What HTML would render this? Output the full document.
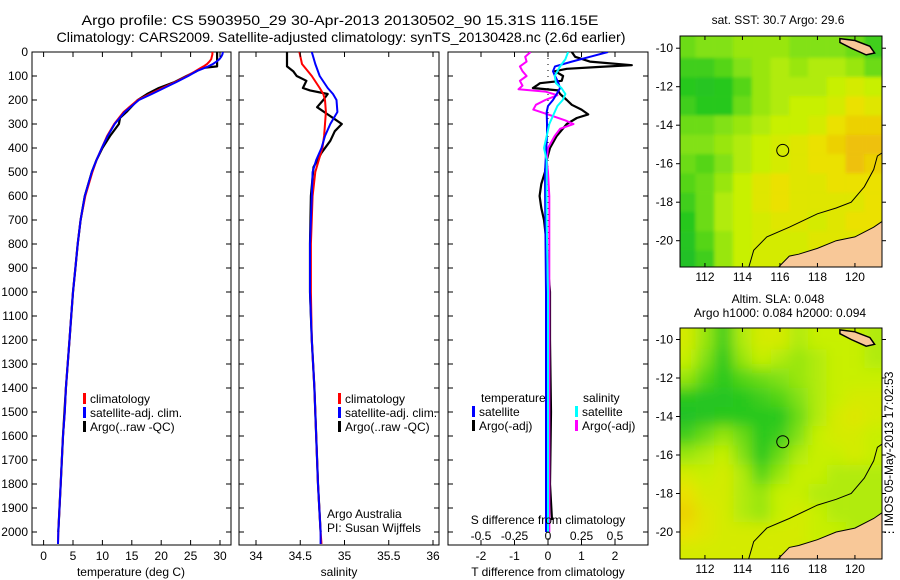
<!DOCTYPE html>
<html><head><meta charset="utf-8"><style>
html,body{margin:0;padding:0;background:#fff;}
svg{display:block;font-family:"Liberation Sans",sans-serif;}
</style></head><body>
<svg id="fig" width="900" height="580" viewBox="0 0 900 580" xmlns="http://www.w3.org/2000/svg">
<defs>
<clipPath id="c1"><rect x="32" y="52" width="199" height="493"/></clipPath>
<clipPath id="c2"><rect x="239" y="52" width="200" height="493"/></clipPath>
<clipPath id="c3"><rect x="448" y="52" width="200" height="493"/></clipPath>
<clipPath id="cm1"><rect x="680" y="36" width="202" height="231"/></clipPath>
<clipPath id="cm2"><rect x="680" y="328" width="202" height="231"/></clipPath>
<filter id="blur1"><feGaussianBlur stdDeviation="1.5"/></filter>
<filter id="blur2"><feGaussianBlur stdDeviation="7"/></filter>
</defs>
<text x="340" y="25" font-size="14" text-anchor="middle" textLength="517" lengthAdjust="spacingAndGlyphs">Argo profile: CS 5903950_29 30-Apr-2013 20130502_90 15.31S 116.15E</text>
<text x="341" y="42" font-size="14" text-anchor="middle" textLength="569" lengthAdjust="spacingAndGlyphs">Climatology: CARS2009. Satellite-adjusted climatology: synTS_20130428.nc (2.6d earlier)</text>
<g id="panels"></g>
<g id="maps"></g>
<text transform="translate(893,455) rotate(-90)" font-size="12" text-anchor="middle">⋮IMOS 05-May-2013 17:02:53</text>
</svg>
<script>
// ---------- profile data ----------
const tDepth = [0,10,20,30,40,50,60,70,80,100,125,150,175,200,250,300,350,400,450,500,600,700,800,900,1000,1100,1200,1300,1400,1500,1600,1700,1800,1900,2000,2050];
const tSat = [30.5,30.4,30.2,29.9,29.4,28.8,28.0,27.0,26.0,24.6,22.6,20.5,18.4,16.2,13.8,12.1,10.9,9.9,9.0,8.2,7.0,6.3,5.8,5.4,5.0,4.7,4.4,4.1,3.8,3.6,3.3,3.1,2.9,2.7,2.5,2.45];
const tClim = [28.7,28.7,28.6,28.5,28.2,27.8,27.2,26.5,25.8,24.4,22.4,20.2,18.1,16.0,13.6,12.0,10.8,9.9,9.0,8.3,7.1,6.3,5.8,5.4,5.0,4.7,4.4,4.1,3.8,3.6,3.3,3.1,2.9,2.7,2.5,2.45];
const tArgoDepth = [0,30,60,65,70,80,100,125,150,175,200,250,275,300,350,400,450,500,600,700,800,900,1000,1200,1400,1600,1800,2000];
const tArgo = [29.5,29.5,29.5,27.5,26.6,26.0,24.3,22.3,19.6,17.6,16.0,14.1,13.0,12.8,11.3,10.0,9.0,8.2,7.0,6.3,5.8,5.4,5.0,4.4,3.8,3.3,2.9,2.5];
const sDepth = [0,50,100,150,175,200,250,300,350,400,450,500,600,800,1000,1200,1400,1600,1800,2000,2050];
const sSat = [34.63,34.67,34.72,34.81,34.87,34.91,34.92,34.84,34.78,34.74,34.68,34.64,34.63,34.61,34.61,34.63,34.66,34.68,34.70,34.73,34.73];
const sClim = [34.49,34.52,34.63,34.72,34.76,34.78,34.79,34.78,34.77,34.75,34.71,34.67,34.64,34.62,34.62,34.63,34.66,34.68,34.70,34.73,34.74];
const sArgoDepth = [0,60,80,100,120,150,160,175,200,230,260,280,300,330,370,420,480,600,800,1000,1200,1400,1600,1800,2000];
const sArgo = [34.35,34.35,34.42,34.46,34.57,34.53,34.61,34.81,34.76,34.69,34.81,34.89,34.97,34.89,34.84,34.74,34.65,34.62,34.61,34.61,34.63,34.66,34.68,34.70,34.73];
const dTsatDepth = [0,20,40,60,80,100,125,150,175,200,225,250,300,350,400,500,700,1000,1500,2000];
const dTsat = [1.79,1.25,0.71,0.21,0.15,0.21,0.30,0.36,0.26,0.15,0,-0.04,-0.03,-0.03,-0.05,-0.09,-0.08,-0.06,-0.06,-0.06];
const dSsatDepth = [0,30,60,100,130,150,175,200,225,250,300,350,400,450,500,700,1000,1500,2000];
const dSsat = [0.15,0.13,0.09,0.05,0.06,0.10,0.13,0.11,0.07,0.05,0.01,-0.01,-0.03,-0.01,-0.01,-0.01,0,0,0];
const dSargoDepth = [0,20,40,60,80,100,120,140,155,165,180,200,220,240,260,285,300,320,350,400,450,500,600,700,800,1000,1500,2000];
const dSargo = [-0.13,-0.17,-0.16,-0.21,-0.19,-0.16,-0.21,-0.19,-0.22,-0.02,0.07,-0.02,-0.09,-0.11,0,0.13,0.19,0.09,0.05,0,-0.01,0,0.01,0.01,0.01,0.01,0.01,0.01];
const dTargoDepth = [0,20,40,55,62,70,80,100,120,130,140,150,160,175,200,220,240,260,275,300,350,400,450,500,550,600,650,700,800,900,1000,1200,1500,1800,1950];
const dTargo = [0.71,0.81,1.25,2.5,1.55,0.56,0.21,0.45,0.41,-0.24,-0.34,-0.45,0.30,0.36,0.56,0.71,1.0,1.2,0.86,0.56,0.26,0.06,-0.04,-0.09,-0.2,-0.25,-0.2,-0.12,-0.04,0,0.06,0.06,0.09,0.06,0.12];
const depthTicks = [0,100,200,300,400,500,600,700,800,900,1000,1100,1200,1300,1400,1500,1600,1700,1800,1900,2000];
const tTicks = [0,5,10,15,20,25,30];
const sTicks = [34,34.5,35,35.5,36];
const sTickLabels = ["34","34.5","35","35.5","36"];
const dtTicks = [-2,-1,0,1,2];
const dsTicks = [-0.5,-0.25,0,0.25,0.5];
const dsTickLabels = ["-0.5","-0.25","0","0.25","0.5"];

// ---------- map data (1-degree cells, colour index 0..1) ----------
const mapLons = [111,112,113,114,115,116,117,118,119,120,121];
const mapLats = [-10,-11,-12,-13,-14,-15,-16,-17,-18,-19,-20,-21];
const sstGrid = [
[0.45,0.5,0.5,0.55,0.55,0.55,0.5,0.5,0.5,0.45,0.35],
[0.35,0.35,0.4,0.5,0.55,0.6,0.55,0.6,0.6,0.55,0.45],
[0.3,0.25,0.3,0.4,0.55,0.6,0.6,0.6,0.65,0.7,0.65],
[0.35,0.3,0.3,0.45,0.55,0.6,0.65,0.65,0.7,0.8,0.75],
[0.45,0.45,0.5,0.55,0.6,0.65,0.65,0.7,0.8,0.85,0.85],
[0.5,0.5,0.55,0.6,0.65,0.7,0.75,0.8,0.85,0.9,0.9],
[0.45,0.4,0.5,0.6,0.65,0.7,0.75,0.8,0.8,0.9,0.85],
[0.4,0.45,0.55,0.65,0.75,0.8,0.75,0.75,0.8,0.8,0.8],
[0.35,0.45,0.6,0.65,0.75,0.8,0.75,0.75,0.75,0.75,0.8],
[0.3,0.45,0.6,0.65,0.7,0.75,0.75,0.7,0.75,0.8,0.8],
[0.25,0.4,0.55,0.65,0.7,0.7,0.7,0.75,0.75,0.75,0.75],
[0.2,0.35,0.55,0.65,0.7,0.7,0.7,0.7,0.7,0.7,0.7]];
const slaGrid = [
[0.7,0.55,0.35,0.6,0.7,0.7,0.6,0.65,0.65,0.65,0.6],
[0.65,0.5,0.3,0.55,0.65,0.6,0.55,0.6,0.65,0.65,0.6],
[0.55,0.4,0.3,0.4,0.45,0.5,0.55,0.6,0.65,0.65,0.65],
[0.3,0.25,0.25,0.3,0.35,0.4,0.5,0.6,0.65,0.7,0.7],
[0.2,0.25,0.3,0.3,0.3,0.3,0.45,0.6,0.7,0.75,0.7],
[0.35,0.45,0.55,0.45,0.3,0.35,0.5,0.65,0.7,0.7,0.65],
[0.55,0.6,0.65,0.5,0.3,0.45,0.6,0.65,0.65,0.7,0.65],
[0.7,0.65,0.7,0.6,0.4,0.55,0.65,0.65,0.6,0.6,0.6],
[0.8,0.7,0.7,0.6,0.55,0.65,0.65,0.6,0.6,0.6,0.6],
[0.85,0.75,0.7,0.6,0.55,0.65,0.7,0.65,0.6,0.6,0.6],
[0.8,0.75,0.7,0.7,0.7,0.7,0.7,0.65,0.65,0.6,0.6],
[0.7,0.7,0.7,0.7,0.7,0.7,0.7,0.65,0.6,0.6,0.6]];
const landLon = [115.7,116.5,117,118,119,120,121,121.6,121.6];
const landLat = [-21.6,-20.8,-20.7,-20.4,-20.0,-19.8,-19.3,-18.9,-21.6];
const islandLon = [119.2,120,120.8,121.05,120.6,119.8,119.2];
const islandLat = [-9.5,-9.6,-9.9,-10.25,-10.35,-10.0,-9.7];
const isoLon = [114.3,114.6,115.3,116.5,118,119,119.8,120.5,121,121.2,121.5];
const isoLat = [-21.5,-20.5,-19.8,-19.3,-18.6,-18.3,-18.0,-17.2,-16.3,-15.6,-15.4];
const lonTicks = [112,114,116,118,120];
const latTicks = [-10,-12,-14,-16,-18,-20];
const argoLon = 116.15, argoLat = -15.31;

const NS = "http://www.w3.org/2000/svg";
function mk(tag, attrs, parent){ const e=document.createElementNS(NS,tag); for(const k in attrs) e.setAttribute(k,attrs[k]); parent.appendChild(e); return e; }
const P = document.getElementById('panels');
const M = document.getElementById('maps');
const yD = d => 52 + d*0.24;
const xT = t => 43.6 + t*5.88;
const xS = s => 256 + (s-34)*88.5;
const xDT = v => 548 + v*33.5;
const xDS = v => 548 + v*134;

function line(xs, ds, xf, color, w, clip, name){
  const pts = xs.map((v,i)=> xf(v).toFixed(1)+','+yD(ds[i]).toFixed(1)).join(' ');
  const el = mk('polyline',{points:pts,fill:'none',stroke:color,'stroke-width':w,'stroke-linejoin':'round','clip-path':'url(#'+clip+')'},P);
  
  
}
function frame(x0,x1,name){
  const r = mk('rect',{x:x0,y:52,width:x1-x0,height:493,fill:'none',stroke:'#000','stroke-width':1},P);
  
  
  depthTicks.forEach(d=>{
    mk('line',{x1:x0,x2:x0+5,y1:yD(d),y2:yD(d),stroke:'#000'},P);
    mk('line',{x1:x1-5,x2:x1,y1:yD(d),y2:yD(d),stroke:'#000'},P);
  });
}
function xTicks(vals, labels, xf, ly){
  vals.forEach((v,i)=>{
    const x = xf(v);
    mk('line',{x1:x,x2:x,y1:52,y2:57,stroke:'#000'},P);
    mk('line',{x1:x,x2:x,y1:540,y2:545,stroke:'#000'},P);
    const t = mk('text',{x:x,y:ly,'font-size':12,'text-anchor':'middle'},P);
    t.textContent = labels[i];
    
    
  });
}
function txt(x,y,s,name,anchor){
  const t = mk('text',{x:x,y:y,'font-size':12,'text-anchor':anchor||'start'},P);
  t.textContent = s;
  
  
}
function legend(x,y,color,s,name){
  mk('rect',{x:x,y:y-10,width:3,height:11,fill:color},P);
  txt(x+7,y,s,name);
}

frame(32,231,'temperature-panel');
frame(239,439,'salinity-panel');
frame(448,648,'difference-panel');
depthTicks.forEach(d=>{ txt(28,yD(d)+4,String(d),'depth-tick-label','end'); });

line(tArgo,tArgoDepth,xT,'#000',2.2,'c1','temp-argo-line');
line(tClim,tDepth,xT,'#f00',2,'c1','temp-climatology-line');
line(tSat,tDepth,xT,'#00f',2,'c1','temp-satellite-line');
xTicks(tTicks,tTicks.map(String),xT,560);
txt(131,576,'temperature (deg C)','temperature-axis-title','middle');
legend(83,403,'#f00','climatology','legend-climatology');
legend(83,417,'#00f','satellite-adj. clim.','legend-satellite');
legend(83,431,'#000','Argo(..raw -QC)','legend-argo');

line(sArgo,sArgoDepth,xS,'#000',2.2,'c2','salinity-argo-line');
line(sClim,sDepth,xS,'#f00',2,'c2','salinity-climatology-line');
line(sSat,sDepth,xS,'#00f',2,'c2','salinity-satellite-line');
xTicks(sTicks,sTickLabels,xS,560);
txt(339,576,'salinity','salinity-axis-title','middle');
legend(338,403,'#f00','climatology','legend-climatology-2');
legend(338,417,'#00f','satellite-adj. clim.','legend-satellite-2');
legend(338,431,'#000','Argo(..raw -QC)','legend-argo-2');
txt(327,518,'Argo Australia','argo-australia-label');
txt(327,532,'PI: Susan Wijffels','pi-label');

mk('line',{x1:548,x2:548,y1:52,y2:545,stroke:'#000','stroke-dasharray':'1,5'},P);
line(dTargo,dTargoDepth,xDT,'#000',2.2,'c3','tdiff-argo-line');
line(dSargo,dSargoDepth,xDS,'#f0f',2,'c3','sdiff-argo-line');
line(dTsat,dTsatDepth,xDT,'#00f',2,'c3','tdiff-satellite-line');
line(dSsat,dSsatDepth,xDS,'#0ff',2,'c3','sdiff-satellite-line');
xTicks(dtTicks,dtTicks.map(String),xDT,560);
dsTicks.forEach((v,i)=>txt(xDS(v),540,dsTickLabels[i],'s-diff-tick-label','middle'));
txt(548,524,'S difference from climatology','s-diff-axis-title','middle');
txt(548,576,'T difference from climatology','t-diff-axis-title','middle');
txt(481,402,'temperature','legend-temperature-header');
txt(583,402,'salinity','legend-salinity-header');
legend(472,416,'#00f','satellite','legend-t-satellite');
legend(472,430,'#000','Argo(-adj)','legend-t-argo');
legend(575,416,'#0ff','satellite','legend-s-satellite');
legend(575,430,'#f0f','Argo(-adj)','legend-s-argo');

const stops = [[0,[20,180,60]],[0.3,[40,200,30]],[0.5,[130,225,20]],[0.65,[200,240,0]],[0.8,[235,225,0]],[1,[240,160,20]]];
function col(v){
  for(let i=1;i<stops.length;i++){ if(v<=stops[i][0]){ const a=stops[i-1],b=stops[i]; const f=(v-a[0])/(b[0]-a[0]); return 'rgb('+a[1].map((c,k)=>Math.round(c+(b[1][k]-c)*f)).join(',')+')'; } }
  return 'rgb(240,160,20)';
}
function drawMap(grid, top, lat0y, clip, blur, name, title1, title2){
  const lonX = l => 680 + (l-110.67)*18.75;
  const latY = l => lat0y + (-10-l)*19.25;
  const g = mk('g',{'clip-path':'url(#'+clip+')'},M);
  
  
  mk('rect',{x:680,y:top,width:202,height:231,fill:col(0.6)},g);
  const cg = mk('g',{filter:'url(#'+blur+')'},g);
  grid.forEach((row,i)=>row.forEach((v,j)=>{
    const c = mk('rect',{x:lonX(mapLons[j]-0.5)-(j==0?20:0),y:latY(mapLats[i]+0.5)-(i==0?20:0),width:18.9+(j==0||j==row.length-1?20:0),height:19.4+(i==0||i==grid.length-1?20:0),fill:col(v)},cg);
    
    
  }));
  const poly = (lo,la)=> lo.map((l,i)=>lonX(l).toFixed(1)+','+latY(la[i]).toFixed(1)).join(' ');
  const land = mk('polygon',{points:poly(landLon,landLat),fill:'#f8c898',stroke:'#000','stroke-width':1},g);
  
  
  const isl = mk('polygon',{points:poly(islandLon,islandLat),fill:'#f8c898',stroke:'#000','stroke-width':1.5},g);
  
  
  const iso = mk('polyline',{points:poly(isoLon,isoLat),fill:'none',stroke:'#000','stroke-width':1},g);
  
  
  const c = mk('circle',{cx:lonX(argoLon),cy:latY(argoLat),r:6,fill:'none',stroke:'#000','stroke-width':1},M);
  
  
  const fr = mk('rect',{x:680,y:top,width:202,height:231,fill:'none',stroke:'#000'},M);
  
  
  lonTicks.forEach(l=>{
    const x=lonX(l);
    mk('line',{x1:x,x2:x,y1:top,y2:top+4,stroke:'#000'},M);
    mk('line',{x1:x,x2:x,y1:top+227,y2:top+231,stroke:'#000'},M);
    const t=mk('text',{x:x,y:top+245,'font-size':12,'text-anchor':'middle'},M); t.textContent=String(l);
    
    
  });
  latTicks.forEach(l=>{
    const y=latY(l);
    mk('line',{x1:676,x2:680,y1:y,y2:y,stroke:'#000'},M);
    mk('line',{x1:882,x2:886,y1:y,y2:y,stroke:'#000'},M);
    const t=mk('text',{x:673,y:y+4,'font-size':12,'text-anchor':'end'},M); t.textContent=String(l);
    
    
  });
  const t1=mk('text',{x:778,y:title2?top-25:top-12,'font-size':12,'text-anchor':'middle'},M); t1.textContent=title1;
  
  
  if(title2){ const t2=mk('text',{x:780,y:top-11,'font-size':12,'text-anchor':'middle'},M); t2.textContent=title2;
    
     }
}
drawMap(sstGrid,36,48.2,'cm1','blur1','sst-map','sat. SST: 30.7 Argo: 29.6',null);
drawMap(slaGrid,328,339.5,'cm2','blur2','sla-map','Altim. SLA: 0.048','Argo h1000: 0.084 h2000: 0.094');
mk('line',{x1:648,x2:648,y1:52,y2:545,stroke:'#000'},M);
</script>
</body></html>
